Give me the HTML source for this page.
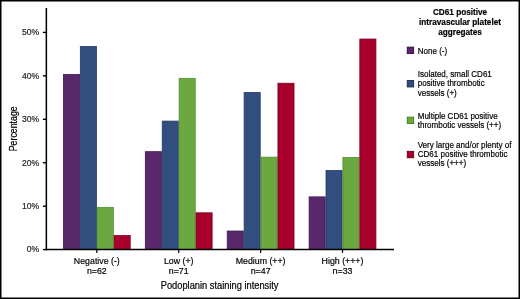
<!DOCTYPE html>
<html><head><meta charset="utf-8"><style>
html,body{margin:0;padding:0;background:#fff;}
svg{display:block;will-change:transform;}
text{font-family:"Liberation Sans",sans-serif;fill:#000;stroke:#000;stroke-width:0.18px;}
.t{font-size:8.6px;fill:#222;stroke:#222;}
.c{font-size:8.8px;}
.ax{font-size:9.3px;}
.ax2{font-size:8.8px;}
.lt{font-size:8.2px;font-weight:bold;}
.l{font-size:8.05px;}
</style></head><body>
<svg width="520" height="299" viewBox="0 0 520 299">
<rect x="0" y="0" width="520" height="299" fill="#fff"/>
<rect x="63.42" y="74.46" width="16.10" height="175.14" fill="#58286b" stroke="#3e1650" stroke-width="0.8"/>
<rect x="80.32" y="46.45" width="16.10" height="203.15" fill="#324e7f" stroke="#233a63" stroke-width="0.8"/>
<rect x="97.22" y="207.49" width="16.10" height="42.11" fill="#6ba940" stroke="#52902a" stroke-width="0.8"/>
<rect x="114.12" y="235.50" width="16.10" height="14.10" fill="#a8002b" stroke="#78001f" stroke-width="0.8"/>
<rect x="145.32" y="151.67" width="16.10" height="97.93" fill="#58286b" stroke="#3e1650" stroke-width="0.8"/>
<rect x="162.22" y="121.10" width="16.10" height="128.50" fill="#324e7f" stroke="#233a63" stroke-width="0.8"/>
<rect x="179.12" y="78.31" width="16.10" height="171.29" fill="#6ba940" stroke="#52902a" stroke-width="0.8"/>
<rect x="196.02" y="212.82" width="16.10" height="36.78" fill="#a8002b" stroke="#78001f" stroke-width="0.8"/>
<rect x="227.22" y="231.03" width="16.10" height="18.57" fill="#58286b" stroke="#3e1650" stroke-width="0.8"/>
<rect x="244.12" y="92.49" width="16.10" height="157.11" fill="#324e7f" stroke="#233a63" stroke-width="0.8"/>
<rect x="261.02" y="157.14" width="16.10" height="92.46" fill="#6ba940" stroke="#52902a" stroke-width="0.8"/>
<rect x="277.92" y="83.25" width="16.10" height="166.35" fill="#a8002b" stroke="#78001f" stroke-width="0.8"/>
<rect x="309.12" y="196.88" width="16.10" height="52.72" fill="#58286b" stroke="#3e1650" stroke-width="0.8"/>
<rect x="326.02" y="170.57" width="16.10" height="79.03" fill="#324e7f" stroke="#233a63" stroke-width="0.8"/>
<rect x="342.92" y="157.42" width="16.10" height="92.18" fill="#6ba940" stroke="#52902a" stroke-width="0.8"/>
<rect x="359.82" y="39.03" width="16.10" height="210.57" fill="#a8002b" stroke="#78001f" stroke-width="0.8"/>
<line x1="46.35" y1="8" x2="46.35" y2="250.3" stroke="#000" stroke-width="1.5"/>
<line x1="45.5" y1="249.6" x2="394" y2="249.6" stroke="#000" stroke-width="1.5"/>
<line x1="42.9" y1="249.60" x2="46" y2="249.60" stroke="#000" stroke-width="1.4"/>
<text transform="translate(39.20,252.40) scale(1,1.15)" text-anchor="end" class="t">0%</text>
<line x1="42.9" y1="206.20" x2="46" y2="206.20" stroke="#000" stroke-width="1.4"/>
<text transform="translate(39.20,209.25) scale(1,1.15)" text-anchor="end" class="t">10%</text>
<line x1="42.9" y1="162.75" x2="46" y2="162.75" stroke="#000" stroke-width="1.4"/>
<text transform="translate(39.20,165.80) scale(1,1.15)" text-anchor="end" class="t">20%</text>
<line x1="42.9" y1="119.30" x2="46" y2="119.30" stroke="#000" stroke-width="1.4"/>
<text transform="translate(39.20,122.35) scale(1,1.15)" text-anchor="end" class="t">30%</text>
<line x1="42.9" y1="75.85" x2="46" y2="75.85" stroke="#000" stroke-width="1.4"/>
<text transform="translate(39.20,78.90) scale(1,1.15)" text-anchor="end" class="t">40%</text>
<line x1="42.9" y1="32.40" x2="46" y2="32.40" stroke="#000" stroke-width="1.4"/>
<text transform="translate(39.20,35.45) scale(1,1.15)" text-anchor="end" class="t">50%</text>
<line x1="96.82" y1="249.6" x2="96.82" y2="252.9" stroke="#000" stroke-width="1.2"/>
<text transform="translate(96.82,263.70) scale(1,1.0)" text-anchor="middle" class="c">Negative (-)</text>
<text transform="translate(96.82,274.00) scale(1,1.0)" text-anchor="middle" class="c">n=62</text>
<line x1="178.72" y1="249.6" x2="178.72" y2="252.9" stroke="#000" stroke-width="1.2"/>
<text transform="translate(178.72,263.70) scale(1,1.0)" text-anchor="middle" class="c">Low (+)</text>
<text transform="translate(178.72,274.00) scale(1,1.0)" text-anchor="middle" class="c">n=71</text>
<line x1="260.62" y1="249.6" x2="260.62" y2="252.9" stroke="#000" stroke-width="1.2"/>
<text transform="translate(260.62,263.70) scale(1,1.0)" text-anchor="middle" class="c">Medium (++)</text>
<text transform="translate(260.62,274.00) scale(1,1.0)" text-anchor="middle" class="c">n=47</text>
<line x1="342.52" y1="249.6" x2="342.52" y2="252.9" stroke="#000" stroke-width="1.2"/>
<text transform="translate(342.52,263.70) scale(1,1.0)" text-anchor="middle" class="c">High (+++)</text>
<text transform="translate(342.52,274.00) scale(1,1.0)" text-anchor="middle" class="c">n=33</text>
<text transform="translate(219.60,288.60) scale(1,1.15)" text-anchor="middle" class="ax">Podoplanin staining intensity</text>
<text transform="translate(16.60,128.80) rotate(-90) scale(1,1.15)" text-anchor="middle" class="ax2">Percentage</text>
<text transform="translate(460.00,15.00) scale(1,1.15)" text-anchor="middle" class="lt">CD61 positive</text>
<text transform="translate(460.00,25.20) scale(1,1.15)" text-anchor="middle" class="lt">intravascular platelet</text>
<text transform="translate(460.00,35.40) scale(1,1.15)" text-anchor="middle" class="lt">aggregates</text>
<rect x="407.25" y="47.15" width="6.4" height="6.4" fill="#58286b" stroke="#2a0b3a" stroke-width="0.9"/>
<text transform="translate(417.70,53.60) scale(1,1.15)" class="l">None (-)</text>
<rect x="407.25" y="80.55" width="6.4" height="6.4" fill="#324e7f" stroke="#16294d" stroke-width="0.9"/>
<text transform="translate(417.70,76.60) scale(1,1.15)" class="l">Isolated, small CD61</text>
<text transform="translate(417.70,86.30) scale(1,1.15)" class="l">positive thrombotic</text>
<text transform="translate(417.70,96.00) scale(1,1.15)" class="l">vessels (+)</text>
<rect x="407.25" y="117.15" width="6.4" height="6.4" fill="#6ba940" stroke="#3d7a1c" stroke-width="0.9"/>
<text transform="translate(417.70,119.00) scale(1,1.15)" class="l">Multiple CD61 positive</text>
<text transform="translate(417.70,128.00) scale(1,1.15)" class="l">thrombotic vessels (++)</text>
<rect x="407.25" y="151.35" width="6.4" height="6.4" fill="#a8002b" stroke="#5a0016" stroke-width="0.9"/>
<text transform="translate(417.70,148.00) scale(1,1.15)" class="l">Very large and/or plenty of</text>
<text transform="translate(417.70,157.15) scale(1,1.15)" class="l">CD61 positive thrombotic</text>
<text transform="translate(417.70,166.30) scale(1,1.15)" class="l">vessels (+++)</text>
<rect x="0.75" y="0.75" width="518.5" height="297.5" fill="none" stroke="#000" stroke-width="1.5"/>
</svg>
</body></html>
